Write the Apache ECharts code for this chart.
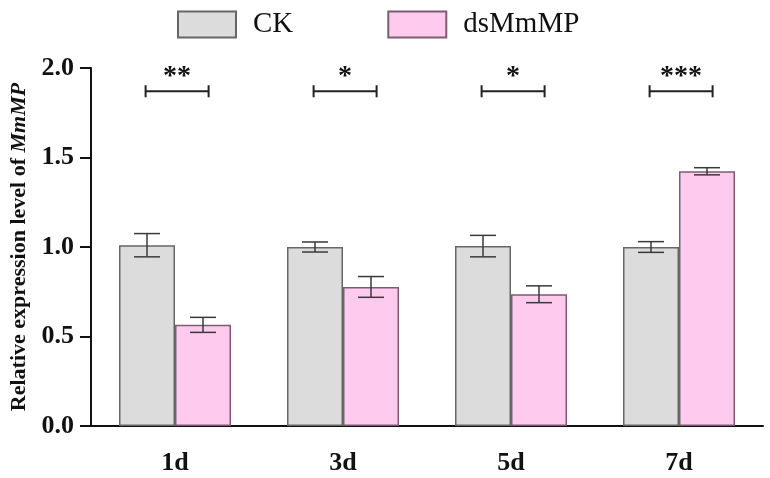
<!DOCTYPE html>
<html>
<head>
<meta charset="utf-8">
<script src="https://cdn.jsdelivr.net/npm/echarts@6/dist/echarts.min.js"></script>
<style>
  html, body { margin: 0; padding: 0; background: #fff; }
  #chart { width: 770px; height: 478px; }
</style>
</head>
<body>
<div id="chart"></div>
<script>
// data
const days = ["1d", "3d", "5d", "7d"];
const ckMean = [1.01, 1.0, 1.005, 1.0];
const ckSd = [0.065, 0.028, 0.06, 0.03];
const dsMean = [0.565, 0.777, 0.736, 1.423];
const dsSd = [0.042, 0.058, 0.047, 0.02];
const sigLabels = ["**", "*", "*", "***"];
const yTicks = [0, 0.5, 1.0, 1.5, 2.0];

const SIG_Y = 1.87;
const FONT = "'Liberation Serif', 'Times New Roman', serif";

const chartDom = document.getElementById("chart");
const myChart = echarts.init(chartDom);

// error bar drawn at the bar center; side -1 = first bar, +1 = second bar
function errorBar(side) {
  return function (params, api) {
    const cat = api.value(0);
    const mean = api.value(1);
    const sd = api.value(2);
    const bw = api.size([1, 0])[0];
    const x = api.coord([cat, mean])[0] + side * bw / 6;
    const yHi = api.coord([cat, mean + sd])[1];
    const yLo = api.coord([cat, mean - sd])[1];
    const cap = 13;
    const style = { stroke: "#3a3a3a", lineWidth: 1.5 };
    return {
      type: "group",
      children: [
        { type: "line", shape: { x1: x, y1: yHi, x2: x, y2: yLo }, style },
        { type: "line", shape: { x1: x - cap, y1: yHi, x2: x + cap, y2: yHi }, style },
        { type: "line", shape: { x1: x - cap, y1: yLo, x2: x + cap, y2: yLo }, style }
      ]
    };
  };
}

function sigBracket(params, api) {
  const cat = api.value(0);
  const bw = api.size([1, 0])[0];
  const c = api.coord([cat, SIG_Y]);
  const x1 = c[0] - bw * 0.175;
  const x2 = c[0] + bw * 0.2;
  const y = c[1];
  const style = { stroke: "#222", lineWidth: 2 };
  return {
    type: "group",
    children: [
      { type: "line", shape: { x1: x1, y1: y, x2: x2, y2: y }, style },
      { type: "line", shape: { x1: x1, y1: y - 6, x2: x1, y2: y + 6 }, style },
      { type: "line", shape: { x1: x2, y1: y - 6, x2: x2, y2: y + 6 }, style },
      {
        type: "text",
        style: {
          text: sigLabels[params.dataIndex],
          x: (x1 + x2) / 2,
          y: y - 1,
          align: "center",
          verticalAlign: "bottom",
          font: "bold 28px " + FONT,
          fill: "#111"
        }
      }
    ]
  };
}

const option = {
  animation: false,
  legend: {
    data: ["CK", "dsMmMP"],
    left: 172,
    top: 5,
    icon: "rect",
    itemWidth: 58,
    itemHeight: 26,
    itemGap: 94,
    textStyle: {
      fontFamily: FONT,
      fontSize: 29,
      color: "#111",
      padding: [0, 0, 0, 12]
    }
  },
  grid: { left: 91, right: 7, top: 68, bottom: 52 },
  xAxis: {
    type: "category",
    data: days,
    axisLine: { lineStyle: { color: "#111", width: 2 } },
    axisTick: { alignWithLabel: true, length: 13, lineStyle: { color: "#111", width: 2 } },
    axisLabel: {
      fontFamily: FONT,
      fontSize: 26,
      fontWeight: "bold",
      color: "#111",
      margin: 24
    }
  },
  yAxis: {
    type: "value",
    min: yTicks[0],
    max: yTicks[yTicks.length - 1],
    interval: 0.5,
    splitLine: { show: false },
    axisLine: { show: true, lineStyle: { color: "#111", width: 2 } },
    axisTick: { show: true, length: 11, lineStyle: { color: "#111", width: 2 } },
    axisLabel: {
      fontFamily: FONT,
      fontSize: 26,
      fontWeight: "bold",
      color: "#111",
      margin: 17,
      formatter: function (v) { return v.toFixed(1); }
    },
    name: "{a|Relative expression level of }{b|MmMP}",
    nameLocation: "middle",
    nameGap: 60,
    nameTextStyle: {
      rich: {
        a: { fontFamily: FONT, fontSize: 22, fontWeight: "bold", color: "#111" },
        b: { fontFamily: FONT, fontSize: 22, fontWeight: "bold", fontStyle: "italic", color: "#111" }
      }
    }
  },
  series: [
    {
      name: "CK",
      type: "bar",
      data: ckMean,
      barGap: "0%",
      barCategoryGap: "33.33%",
      itemStyle: { color: "#dcdcdc", borderColor: "#666666", borderWidth: 1.5 }
    },
    {
      name: "dsMmMP",
      type: "bar",
      data: dsMean,
      barGap: "0%",
      barCategoryGap: "33.33%",
      itemStyle: { color: "#fecbef", borderColor: "#7d5c72", borderWidth: 1.5 }
    },
    {
      name: "ckErr",
      type: "custom",
      renderItem: errorBar(-1),
      data: days.map((d, i) => [i, ckMean[i], ckSd[i]]),
      z: 5
    },
    {
      name: "dsErr",
      type: "custom",
      renderItem: errorBar(1),
      data: days.map((d, i) => [i, dsMean[i], dsSd[i]]),
      z: 5
    },
    {
      name: "sig",
      type: "custom",
      renderItem: sigBracket,
      data: days.map((d, i) => [i, SIG_Y]),
      z: 5
    }
  ]
};

myChart.setOption(option);
</script>
</body>
</html>
